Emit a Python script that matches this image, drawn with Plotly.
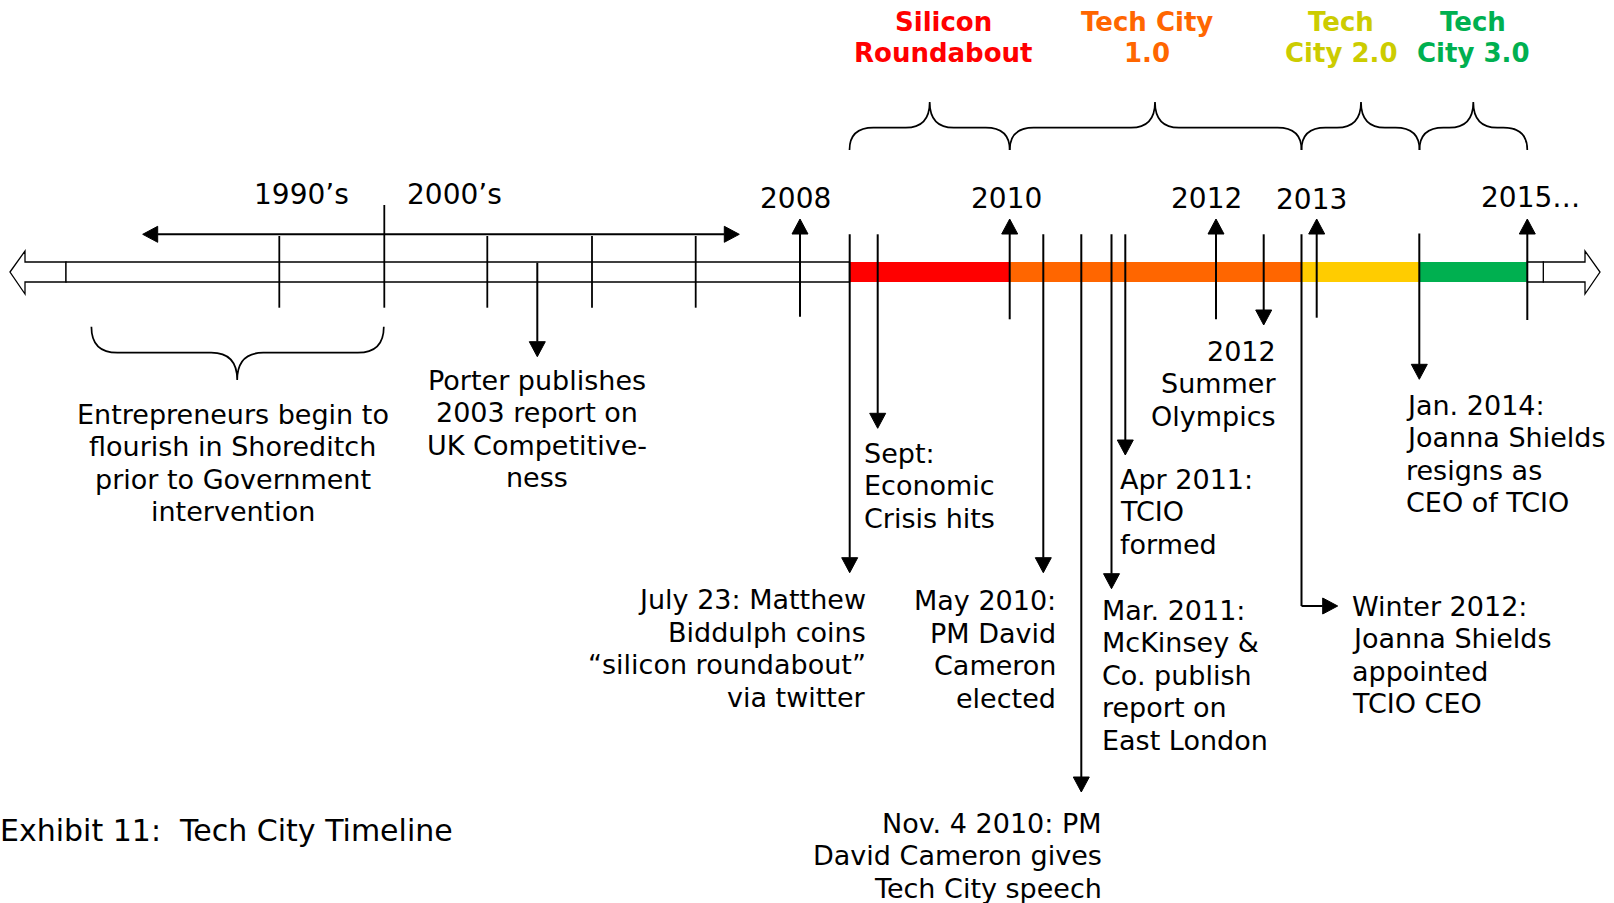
import plotly.graph_objects as go

W, H = 1614, 903
FONT = "Verdana, DejaVu Sans, sans-serif"

# ---- data -------------------------------------------------------------
# eras shown as coloured segments of the timeline, with their headings
era_names = [["Silicon", "Roundabout"], ["Tech City", "1.0"], ["Tech", "City 2.0"], ["Tech", "City 3.0"]]
era_text_colors = ["#FF0000", "#FF6600", "#CCCC00", "#00B050"]
era_bar_colors = ["#FF0000", "#FF6600", "#FFCC00", "#00B050"]
era_start = [849.5, 1009.7, 1301.5, 1419.5]
era_end = [1009.7, 1301.5, 1419.5, 1527.3]
era_peak = [929.7, 1155, 1361, 1473.3]
era_label_x = [943.3, 1146.7, 1340.5, 1473.3]

# year markers (label + up arrow)
year_labels = ["1990\u2019s", "2000\u2019s", "2008", "2010", "2012", "2013", "2015\u2026"]
year_label_x = [301.6, 454.5, 795.6, 1006, 1206.7, 1311, 1530.6]
year_label_y = [194, 194, 198.5, 198.5, 198.5, 199.7, 197.6]
year_arrow_x = [800, 1009.7, 1216, 1316.7, 1527.3]
year_arrow_bottom = [316.7, 319.3, 319.3, 317.7, 320]

# plain ticks across the 1990's / 2000's part of the bar
tick_x = [279.3, 384.3, 487.3, 592, 695.7]
tick_top = [236, 205, 236, 236, 236]

# events hanging from the bar
event_text = [
    ["Porter publishes", "2003 report on", "UK Competitive-", "ness"],
    ["July 23: Matthew", "Biddulph coins", "\u201csilicon roundabout\u201d", "via twitter"],
    ["Sept:", "Economic", "Crisis hits"],
    ["May 2010:", "PM David", "Cameron", "elected"],
    ["Nov. 4 2010: PM", "David Cameron gives", "Tech City speech"],
    ["Mar. 2011:", "McKinsey &", "Co. publish", "report on", "East London"],
    ["Apr 2011:", "TCIO", "formed"],
    ["2012", "Summer", "Olympics"],
    ["Winter 2012:", "Joanna Shields", "appointed", "TCIO CEO"],
    ["Jan. 2014:", "Joanna Shields", "resigns as", "CEO of TCIO"],
]
event_x = [537.3, 849.7, 877.7, 1043.3, 1081.3, 1111.5, 1125.3, 1263.7, 1301.5, 1419.3]
event_top = [262.7, 234.3, 234.3, 234.3, 234.3, 234.3, 234.3, 234.3, 234.3, 233.5]
event_tip = [356.7, 572.7, 428.3, 572.7, 792, 588.7, 455, 325, 606, 379.3]
event_text_x = [537, 866, 864, 1056, 1102, 1102, 1119.5, 1275.5, 1352, 1405.5]
event_text_y = [380, 599.5, 453.3, 600.7, 823.3, 610, 479.3, 351, 606, 405]
event_align = ["center", "right", "left", "right", "right", "left", "left", "right", "left", "left"]

pre_text = ["Entrepreneurs begin to", "flourish in Shoreditch", "prior to Government", "intervention"]
title_text = "Exhibit 11:\u00a0 Tech City Timeline"

# ---- geometry / style ----------------------------------------------------
BAR_TOP, BAR_BOT = 262, 282
LINE_H = 32.5
HEAD_LINE_H = 31.7
ARROW_W, ARROW_H = 16, 15

shapes = []
annotations = []


def line(x0, y0, x1, y1, width=2):
    shapes.append(dict(type="line", xref="x", yref="y", x0=x0, y0=y0, x1=x1, y1=y1,
                       line=dict(color="black", width=width)))


def head(x, y, direction):
    # filled arrow head with its tip at (x, y)
    w, h = ARROW_W, ARROW_H
    if direction == "down":
        pts = [(x, y), (x - w / 2, y - h), (x + w / 2, y - h)]
    elif direction == "up":
        pts = [(x, y), (x - w / 2, y + h), (x + w / 2, y + h)]
    elif direction == "right":
        pts = [(x, y), (x - h, y - w / 2), (x - h, y + w / 2)]
    else:
        pts = [(x, y), (x + h, y - w / 2), (x + h, y + w / 2)]
    path = "M " + " L ".join(f"{px},{py}" for px, py in pts) + " Z"
    shapes.append(dict(type="path", xref="x", yref="y", path=path, fillcolor="black",
                       line=dict(color="black", width=1)))


def brace(x0, x1, xm, y_end, y_mid, y_tip, r=25):
    path = (f"M {x0},{y_end} Q {x0},{y_mid} {x0 + r},{y_mid} L {xm - r},{y_mid} "
            f"Q {xm},{y_mid} {xm},{y_tip} Q {xm},{y_mid} {xm + r},{y_mid} "
            f"L {x1 - r},{y_mid} Q {x1},{y_mid} {x1},{y_end}")
    shapes.append(dict(type="path", xref="x", yref="y", path=path,
                       line=dict(color="black", width=1.7)))


def text(x, y, s, align="center", size=27, color="black", bold=False):
    annotations.append(dict(x=x, y=y, xref="x", yref="y", text=f"<b>{s}</b>" if bold else s,
                            showarrow=False, xanchor=align, yanchor="middle",
                            borderpad=0, borderwidth=0,
                            font=dict(family=FONT, size=size, color=color)))


# hollow arrows at both ends of the bar
mid = (BAR_TOP + BAR_BOT) / 2
left_arrow = [(10, mid), (25, 251), (25, BAR_TOP), (66, BAR_TOP), (66, BAR_BOT), (25, BAR_BOT), (25, 294)]
right_arrow = [(1543.3, BAR_TOP), (1585, BAR_TOP), (1585, 251), (1600, mid), (1585, 294), (1585, BAR_BOT), (1543.3, BAR_BOT)]
for pts in (left_arrow, right_arrow):
    shapes.append(dict(type="path", xref="x", yref="y", fillcolor="white",
                       path="M " + " L ".join(f"{px},{py}" for px, py in pts) + " Z",
                       line=dict(color="black", width=1.3)))

# white part of the bar
for x0, x1 in [(66, era_start[0]), (era_end[-1], 1543.3)]:
    shapes.append(dict(type="rect", xref="x", yref="y", x0=x0, x1=x1, y0=BAR_TOP, y1=BAR_BOT,
                       fillcolor="white", line=dict(color="black", width=1.3)))

# coloured eras + braces + headings
for name, tc, bc, s, e, p, lx in zip(era_names, era_text_colors, era_bar_colors,
                                       era_start, era_end, era_peak, era_label_x):
    shapes.append(dict(type="rect", xref="x", yref="y", x0=s, x1=e, y0=BAR_TOP, y1=BAR_BOT,
                       fillcolor=bc, line=dict(width=0)))
    brace(s, e, p, 150, 127.7, 102, r=24)
    for i, ln in enumerate(name):
        text(lx, 21.7 + i * HEAD_LINE_H, ln, size=26, color=tc, bold=True)

# decade range double arrow
line(142.7 + ARROW_H, 234.3, 739.3 - ARROW_H, 234.3)
head(142.7, 234.3, "left")
head(739.3, 234.3, "right")

# plain ticks
for x, t in zip(tick_x, tick_top):
    line(x, t, x, 307.7, width=1.8)

# year labels and up arrows
for lab, x, y in zip(year_labels, year_label_x, year_label_y):
    text(x, y, lab, size=28)
for x, b in zip(year_arrow_x, year_arrow_bottom):
    line(x, b, x, 219 + ARROW_H)
    head(x, 219, "up")

# events
for lines_, x, top, tip, tx, ty, al in zip(event_text, event_x, event_top, event_tip,
                                            event_text_x, event_text_y, event_align):
    if lines_[0].startswith("Winter"):
        # this one bends to the right
        line(x, top, x, tip)
        line(x, tip, 1337.7 - ARROW_H, tip)
        head(1337.7, tip, "right")
    else:
        line(x, top, x, tip - ARROW_H)
        head(x, tip, "down")
    for i, ln in enumerate(lines_):
        text(tx, ty + i * LINE_H, ln, align=al)

# brace + note for the pre-government years
brace(91.4, 383.8, 237.2, 326.7, 352.7, 380, r=26)
for i, ln in enumerate(pre_text):
    text(232.6, 414 + i * LINE_H, ln)

text(0, 830, title_text, align="left", size=30)

fig = go.Figure(go.Scatter(x=[], y=[]))
fig.update_layout(
    width=W, height=H,
    margin=dict(l=0, r=0, t=0, b=0),
    paper_bgcolor="white", plot_bgcolor="white",
    xaxis=dict(range=[0, W], visible=False, fixedrange=True),
    yaxis=dict(range=[H, 0], visible=False, fixedrange=True),
    shapes=shapes, annotations=annotations, showlegend=False,
)
# the page's default body margin would push the figure 8px off the window
fig.write_html("out.html", config={"displayModeBar": False},
               post_script="document.body.style.margin='0';document.body.style.overflow='hidden';")
